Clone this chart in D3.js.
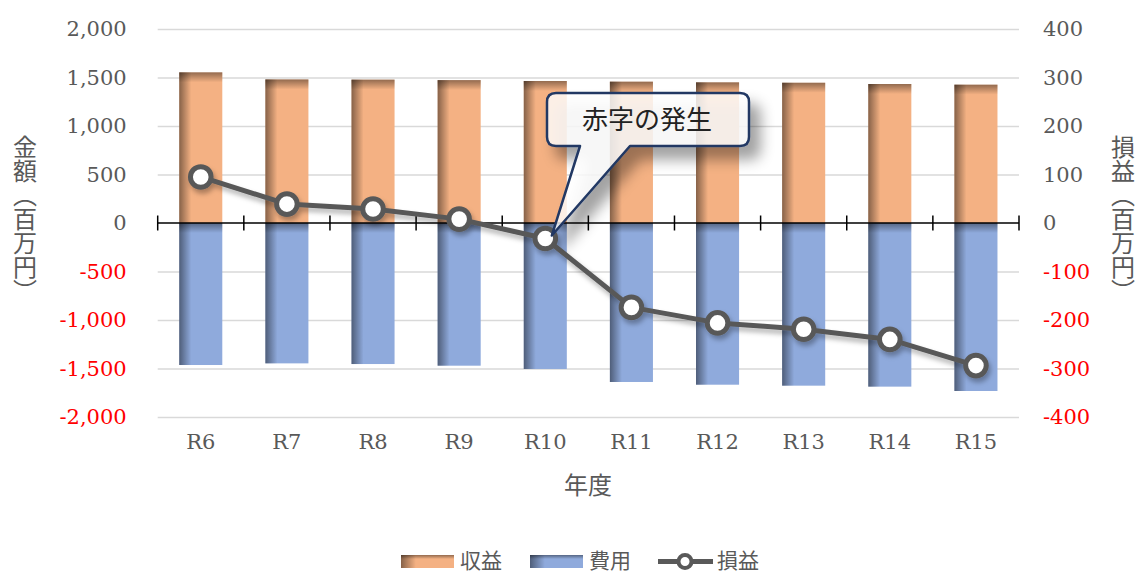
<!DOCTYPE html>
<html><head><meta charset="utf-8">
<script src="https://cdn.jsdelivr.net/npm/d3@7"></script>
<style>
html,body{margin:0;padding:0;background:#fff;}
svg{display:block;}
</style></head><body>
<svg id="chart" width="1139" height="575"></svg>
<script>
// Fiscal years and amounts (million yen)
const categories = ["R6","R7","R8","R9","R10","R11","R12","R13","R14","R15"];
const revenue = [1553, 1480, 1478, 1473, 1464, 1457, 1450, 1446, 1433, 1426];
const expense = [-1464, -1447, -1454, -1471, -1505, -1639, -1667, -1677, -1687, -1732];
const profit  = [95, 39, 29, 8, -32, -174, -206, -219, -240, -294];

const leftTicks  = [2000, 1500, 1000, 500, 0, -500, -1000, -1500, -2000];
const rightTicks = [400, 300, 200, 100, 0, -100, -200, -300, -400];
const seriesNames = ["収益", "費用", "損益"];
const xTitle = "年度";
const leftTitle = "金額（百万円）";
const rightTitle = "損益（百万円）";
const calloutText = "赤字の発生";
const calloutIndex = 4;

const plot = {left: 157.7, right: 1019, top: 29, bottom: 417};
const grey = "#595959", red = "#ff0000";
const revColor = "#f4b183", expColor = "#8faadc";
const numFont = "'DejaVu Serif','Noto Sans CJK JP',serif";
const jpFont = "'Noto Sans CJK JP',sans-serif";

const svg = d3.select("#chart");
const x = d3.scaleBand().domain(categories).range([plot.left, plot.right]);
const yL = d3.scaleLinear().domain([-2000, 2000]).range([plot.bottom, plot.top]);
const yR = d3.scaleLinear().domain([-400, 400]).range([plot.bottom, plot.top]);
const fmt = d3.formatLocale({decimal: ".", thousands: ",", grouping: [3], currency: ["", ""], minus: "-"}).format(",");

// ---- defs: bar shading and shadows
const defs = svg.append("defs");
const gx = defs.append("linearGradient").attr("id", "shadeX").attr("x1", 0).attr("x2", 1).attr("y1", 0).attr("y2", 0);
gx.append("stop").attr("offset", 0).attr("stop-color", "#000").attr("stop-opacity", 0.45);
gx.append("stop").attr("offset", 0.28).attr("stop-color", "#000").attr("stop-opacity", 0);
const gy = defs.append("linearGradient").attr("id", "shadeY").attr("x1", 0).attr("x2", 0).attr("y1", 0).attr("y2", 1);
gy.append("stop").attr("offset", 0).attr("stop-color", "#000").attr("stop-opacity", 0.4);
gy.append("stop").attr("offset", 1).attr("stop-color", "#000").attr("stop-opacity", 0);
const fl = defs.append("filter").attr("id", "lineShadow").attr("x", "-10%").attr("y", "-10%").attr("width", "130%").attr("height", "140%");
fl.append("feDropShadow").attr("dx", 2).attr("dy", 4).attr("stdDeviation", 2.5).attr("flood-color", "#000").attr("flood-opacity", 0.3);
const fc = defs.append("filter").attr("id", "calloutShadow").attr("x", "-20%").attr("y", "-30%").attr("width", "160%").attr("height", "170%");
fc.append("feDropShadow").attr("dx", 10).attr("dy", 12).attr("stdDeviation", 7).attr("flood-color", "#000").attr("flood-opacity", 0.45);

// ---- gridlines
svg.append("g")
  .attr("transform", `translate(${plot.left},0)`)
  .call(d3.axisLeft(yL).tickValues(leftTicks.filter(d => d !== 0)).tickSize(-(plot.right - plot.left)).tickFormat(""))
  .call(g => g.select(".domain").remove())
  .call(g => g.selectAll("line").attr("stroke", "#d9d9d9").attr("stroke-width", 1.5));

// ---- bars
const bw = x.bandwidth() * 0.5;
const bx = c => x(c) + (x.bandwidth() - bw) / 2;

function drawBars(values, color) {
  const g = svg.append("g");
  const data = values.map((v, i) => ({c: categories[i], v}));
  const top = d => d.v >= 0 ? yL(d.v) : yL(0);
  const hgt = d => Math.abs(yL(d.v) - yL(0));
  g.selectAll("rect.base").data(data).join("rect").attr("class", "base")
    .attr("x", d => bx(d.c)).attr("y", top).attr("width", bw).attr("height", hgt).attr("fill", color);
  g.selectAll("rect.sx").data(data).join("rect").attr("class", "sx")
    .attr("x", d => bx(d.c)).attr("y", top).attr("width", bw).attr("height", hgt).attr("fill", "url(#shadeX)");
  g.selectAll("rect.sy").data(data).join("rect").attr("class", "sy")
    .attr("x", d => bx(d.c)).attr("y", top).attr("width", bw).attr("height", 10).attr("fill", "url(#shadeY)");
}
drawBars(revenue, revColor);
drawBars(expense, expColor);

// ---- zero axis with category boundary ticks
const y0 = yL(0);
svg.append("line").attr("x1", plot.left).attr("x2", plot.right).attr("y1", y0).attr("y2", y0)
  .attr("stroke", "#000").attr("stroke-width", 1.5);
const bounds = categories.map(c => x(c)).concat([x(categories[categories.length - 1]) + x.bandwidth()]);
svg.append("g").selectAll("line").data(bounds).join("line")
  .attr("x1", d => d).attr("x2", d => d).attr("y1", y0 - 7.5).attr("y2", y0 + 7.5)
  .attr("stroke", "#000").attr("stroke-width", 1.5);

// ---- profit line
const cx = (d, i) => x(categories[i]) + x.bandwidth() / 2;
const lg = svg.append("g").attr("filter", "url(#lineShadow)");
lg.append("path").datum(profit)
  .attr("d", d3.line().x(cx).y(d => yR(d)))
  .attr("fill", "none").attr("stroke", grey).attr("stroke-width", 5).attr("stroke-linejoin", "round");
lg.selectAll("circle").data(profit).join("circle")
  .attr("cx", cx).attr("cy", d => yR(d)).attr("r", 10.3)
  .attr("fill", "#fff").attr("stroke", grey).attr("stroke-width", 5);

// ---- axes labels
svg.append("g").attr("transform", `translate(${plot.left},0)`)
  .call(d3.axisLeft(yL).tickValues(leftTicks).tickSize(0).tickPadding(31).tickFormat(fmt))
  .call(g => g.select(".domain").remove())
  .call(g => g.selectAll("text").attr("font-family", numFont).attr("font-size", 21)
    .attr("fill", d => d < 0 ? red : grey));

svg.append("g").attr("transform", `translate(${plot.right},0)`)
  .call(d3.axisRight(yR).tickValues(rightTicks).tickSize(0).tickPadding(24).tickFormat(fmt))
  .call(g => g.select(".domain").remove())
  .call(g => g.selectAll("text").attr("font-family", numFont).attr("font-size", 21)
    .attr("fill", d => d < 0 ? red : grey));

svg.append("g").attr("transform", `translate(0,${plot.bottom})`)
  .call(d3.axisBottom(x).tickSize(0).tickPadding(17))
  .call(g => g.select(".domain").remove())
  .call(g => g.selectAll("text").attr("font-family", numFont).attr("font-size", 21).attr("fill", grey));

// ---- axis titles
svg.append("text").attr("x", 588).attr("y", 494).attr("text-anchor", "middle")
  .attr("font-family", jpFont).attr("font-size", 24).attr("fill", grey).text(xTitle);
svg.append("text").attr("x", 25).attr("y", 219).attr("text-anchor", "middle")
  .style("writing-mode", "vertical-rl")
  .attr("font-family", jpFont).attr("font-size", 24).attr("fill", grey).text(leftTitle);
svg.append("text").attr("x", 1123).attr("y", 219).attr("text-anchor", "middle")
  .style("writing-mode", "vertical-rl")
  .attr("font-family", jpFont).attr("font-size", 24).attr("fill", grey).text(rightTitle);

// ---- callout pointing at the first deficit year
{
  const x0 = 547, x1 = 749, yt = 93, yb = 146, r = 9;
  const tipX = cx(null, calloutIndex) + 6.5, tipY = yR(profit[calloutIndex]) - 3;
  const p = `M${x0 + r},${yt} H${x1 - r} Q${x1},${yt} ${x1},${yt + r} V${yb - r} Q${x1},${yb} ${x1 - r},${yb}
    H630 L${tipX},${tipY} L580,${yb} H${x0 + r} Q${x0},${yb} ${x0},${yb - r} V${yt + r} Q${x0},${yt} ${x0 + r},${yt} Z`;
  svg.append("path").attr("d", p).attr("fill", "#fff").attr("fill-opacity", 0.8)
    .attr("stroke", "#203864").attr("stroke-width", 2.5).attr("stroke-linejoin", "round")
    .attr("filter", "url(#calloutShadow)");
  svg.append("text").attr("x", (x0 + x1) / 2 - 1).attr("y", 120).attr("dy", "0.36em").attr("text-anchor", "middle")
    .attr("font-family", jpFont).attr("font-size", 26).attr("fill", "#222").text(calloutText);
}

// ---- legend
{
  const ly = 561, sh = 13;
  const lgd = svg.append("g").attr("font-family", jpFont).attr("font-size", 21).attr("fill", grey);
  [[401, revColor, 460], [530, expColor, 589]].forEach(([sx, col, tx], i) => {
    lgd.append("rect").attr("x", sx).attr("y", ly - 6).attr("width", 53).attr("height", sh).attr("fill", col);
    lgd.append("rect").attr("x", sx).attr("y", ly - 6).attr("width", 53).attr("height", sh).attr("fill", "url(#shadeX)");
    lgd.append("rect").attr("x", sx).attr("y", ly - 6).attr("width", 53).attr("height", 4).attr("fill", "url(#shadeY)");
    lgd.append("text").attr("x", tx).attr("y", ly).attr("dy", "0.34em").text(seriesNames[i]);
  });
  lgd.append("line").attr("x1", 658).attr("x2", 713).attr("y1", ly + 0.5).attr("y2", ly + 0.5)
    .attr("stroke", grey).attr("stroke-width", 5);
  lgd.append("circle").attr("cx", 685).attr("cy", ly + 0.5).attr("r", 6.5)
    .attr("fill", "#fff").attr("stroke", grey).attr("stroke-width", 4);
  lgd.append("text").attr("x", 717).attr("y", ly).attr("dy", "0.34em").text(seriesNames[2]);
}
</script>
</body></html>
